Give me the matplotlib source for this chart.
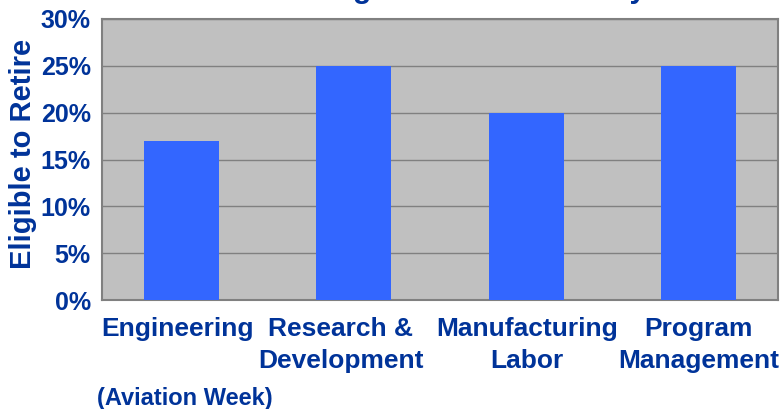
import matplotlib
matplotlib.use("Agg")
import matplotlib.pyplot as plt
import matplotlib.transforms as mtransforms
from matplotlib.ticker import MultipleLocator, PercentFormatter

categories = ["Engineering", "Research &\nDevelopment", "Manufacturing\nLabor", "Program\nManagement"]
eligible_pct = [17, 25, 20, 25]

navy = "#003399"
plt.rcParams['font.family'] = ['Liberation Sans', 'DejaVu Sans']
plt.rcParams['font.weight'] = 'bold'

fig = plt.figure(figsize=(7.83, 4.09), dpi=100)
ax = fig.add_axes([102 / 783, 1 - 300 / 409, 676 / 783, 281 / 409])

ax.set_facecolor("#C0C0C0")
ax.bar(range(len(categories)), eligible_pct, width=0.435, color="#3366FF", zorder=3)
ax.set_xlim(-0.46, len(categories) - 0.54)
ax.set_ylim(0, 30)
ax.yaxis.set_major_locator(MultipleLocator(5))
ax.yaxis.set_major_formatter(PercentFormatter(decimals=0))
ax.grid(axis='y', color="#808080", linewidth=1, zorder=1)

ax.set_xticks(range(len(categories)))
ax.set_xticklabels(categories, fontsize=19, color=navy, fontweight='bold', linespacing=1.45)
ax.tick_params(axis='x', length=0, pad=12)
ax.tick_params(axis='y', length=0, pad=8)
for lbl in ax.get_yticklabels():
    lbl.set_fontsize(18)
    lbl.set_color(navy)
    lbl.set_fontweight('bold')

# Excel nudged the crowded labels a bit
shifts = [-4, -13, 1, 0]
for lbl, dx in zip(ax.get_xticklabels(), shifts):
    lbl.set_transform(lbl.get_transform() + mtransforms.ScaledTranslation(dx / 100, 0, fig.dpi_scale_trans))

for s in ax.spines.values():
    s.set_color("#808080")
    s.set_linewidth(1.5)

# y axis title
fig.text(23 / 783, 1 - 154 / 409, "Eligible to Retire", rotation=90, ha='center', va='center',
         fontsize=21, color=navy, fontweight='bold')

# title is mostly clipped by the top edge in the original
fig.text(0.516, 1.0 + 2 / 409, "Workforce Eligible to Retire Today", ha='center', va='baseline',
         fontsize=21.5, color=navy, fontweight='bold')
fig.text(97 / 783, 1 - 405 / 409, "(Aviation Week)", fontsize=17, color=navy, fontweight='bold')

fig.savefig("out.png", dpi=100)
